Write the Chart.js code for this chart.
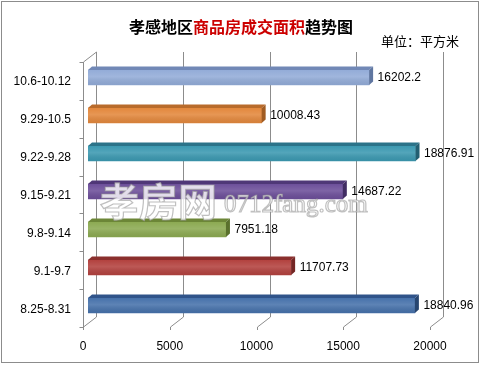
<!DOCTYPE html>
<html>
<head>
<meta charset="utf-8">
<script src="https://cdn.jsdelivr.net/npm/chart.js@4"></script>
<style>
  body { margin: 0; background: #fff; }
  #wrap { position: relative; width: 482px; height: 366px; }
  #frame { position: absolute; left: 1px; top: 1px; width: 478px; height: 362px; border: 1px solid #8c8c8c; box-sizing: border-box; }
  #title { position: absolute; left: 0; top: 16px; width: 482px; text-align: center; font: bold 16px/20px "Noto Sans CJK SC"; color: #000; }
  #title span { color: #cc0000; }
  #unit { position: absolute; left: 381px; top: 33px; font: 13px/16px "Noto Sans CJK SC"; color: #000; }
  canvas { position: absolute; left: 0; top: 0; }
</style>
</head>
<body>
<div id="wrap">
  <canvas id="areaChart" width="482" height="366"></canvas>
  <div id="frame"></div>
  <div id="title">孝感地区<span>商品房成交面积</span>趋势图</div>
  <div id="unit">单位：平方米</div>
</div>
<script>
// weekly data, top to bottom as in the picture
var categories = ['10.6-10.12', '9.29-10.5', '9.22-9.28', '9.15-9.21', '9.8-9.14', '9.1-9.7', '8.25-8.31'];
var areas = [16202.2, 10008.43, 18876.91, 14687.22, 7951.18, 11707.73, 18840.96];
var xTicks = [0, 5000, 10000, 15000, 20000];

var barColors = ['#93acd8', '#e3883d', '#3c99b1', '#6d4f9a', '#8caa52', '#b3423f', '#4772ab'];
var topColors = ['#7188b6', '#b96b2b', '#2b7389', '#4f3777', '#6c8637', '#8a2f2d', '#30548a'];
var sideColors = ['#5f76a0', '#a15c22', '#235f72', '#412d63', '#5a712d', '#742624', '#284670'];

var chart3d = {
    id: 'chart3d',
    beforeDatasetsDraw: function(chart) {
        var ctx = chart.ctx, a = chart.chartArea, x = chart.scales.x;
        var fb = a.bottom + 2.5, bb = a.bottom - 7.5, bt = a.top - 6.5, ft = a.top + 3.5;
        var x0 = x.getPixelForValue(0);
        ctx.save();
        ctx.strokeStyle = '#8c8c8c';
        ctx.lineWidth = 1;
        ctx.beginPath();
        xTicks.forEach(function(v) {
            var px = Math.round(x.getPixelForValue(v)) + 0.5;
            ctx.moveTo(px + 8, bt);
            ctx.lineTo(px + 8, bb);
            ctx.lineTo(px - 5, fb);
            ctx.lineTo(px - 5, fb + 3);
        });
        var lx = Math.round(x0) - 4.5;
        ctx.moveTo(lx + 13, bt);
        ctx.lineTo(lx, ft);
        ctx.lineTo(lx, fb);
        for (var i = 0; i <= categories.length; i++) {
            var yy = Math.round(ft + i * (fb - ft) / categories.length) + 0.5;
            ctx.moveTo(lx - 4, yy);
            ctx.lineTo(lx, yy);
        }
        ctx.stroke();
        ctx.restore();
    },
    afterDatasetsDraw: function(chart) {
        var ctx = chart.ctx;
        var meta = chart.getDatasetMeta(0);
        ctx.save();
        meta.data.forEach(function(bar, i) {
            var top = bar.y - bar.height / 2, bottom = bar.y + bar.height / 2;
            var dx = 4, dy = 3.5;
            // soft highlight across the front face
            var g = ctx.createLinearGradient(0, top, 0, bottom);
            g.addColorStop(0, 'rgba(255,255,255,0)');
            g.addColorStop(0.45, 'rgba(255,255,255,0.12)');
            g.addColorStop(1, 'rgba(0,0,0,0.06)');
            ctx.fillStyle = g;
            ctx.fillRect(bar.base, top, bar.x - bar.base, bottom - top);
            ctx.fillStyle = topColors[i];
            ctx.beginPath();
            ctx.moveTo(bar.base, top);
            ctx.lineTo(bar.base + dx, top - dy);
            ctx.lineTo(bar.x + dx, top - dy);
            ctx.lineTo(bar.x, top);
            ctx.closePath();
            ctx.fill();
            ctx.fillStyle = sideColors[i];
            ctx.beginPath();
            ctx.moveTo(bar.x, top);
            ctx.lineTo(bar.x + dx, top - dy);
            ctx.lineTo(bar.x + dx, bottom - dy);
            ctx.lineTo(bar.x, bottom);
            ctx.closePath();
            ctx.fill();
            ctx.fillStyle = '#000';
            ctx.font = '12px "Liberation Sans"';
            ctx.textBaseline = 'middle';
            ctx.textAlign = 'left';
            ctx.fillText(String(areas[i]), bar.x + 8.5, bar.y);
        });
        // watermark
        ctx.lineWidth = 1.2;
        ctx.strokeStyle = 'rgba(150,150,150,0.6)';
        ctx.fillStyle = 'rgba(255,255,255,0.8)';
        ctx.textBaseline = 'alphabetic';
        ctx.font = 'bold 39px "Noto Sans CJK SC"';
        ctx.fillText('孝房网', 100, 216);
        ctx.strokeText('孝房网', 100, 216);
        ctx.font = '25px "Liberation Serif"';
        ctx.fillText('0712fang.com', 224, 212);
        ctx.strokeText('0712fang.com', 224, 212);
        ctx.restore();
    }
};

var ctx = document.getElementById('areaChart').getContext('2d');
var areaChart = new Chart(ctx, {
    type: 'bar',
    data: {
        labels: categories,
        datasets: [{
            data: areas,
            backgroundColor: barColors,
            borderWidth: 0,
            barThickness: 15
        }]
    },
    options: {
        indexAxis: 'y',
        responsive: false,
        animation: false,
        layout: {
            padding: { left: 0, top: 58.5, right: 47, bottom: 11.5 }
        },
        plugins: {
            legend: { display: false },
            tooltip: { enabled: false }
        },
        scales: {
            x: {
                min: 0,
                max: 20000,
                afterFit: function(s) { s.height = 30; },
                grid: { display: false, drawTicks: false },
                border: { display: false },
                ticks: {
                    stepSize: 5000,
                    padding: 14.5,
                    labelOffset: -5,
                    color: '#000',
                    font: { family: 'Liberation Sans', size: 12 },
                    callback: function(v) { return String(v); }
                }
            },
            y: {
                afterFit: function(s) { s.width = 88; },
                grid: { display: false, drawTicks: false },
                border: { display: false },
                ticks: {
                    padding: 17,
                    labelOffset: 4.5,
                    color: '#000',
                    font: { family: 'Liberation Sans', size: 12 }
                }
            }
        }
    },
    plugins: [chart3d]
});
</script>
</body>
</html>
